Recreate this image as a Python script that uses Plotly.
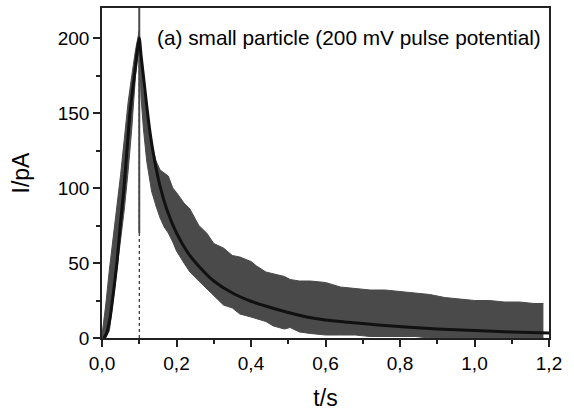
import plotly.graph_objects as go

# ---- data ----
# envelope of the noisy current trace (pA) vs time (s)
band_t = [0.0, 0.01, 0.02, 0.03, 0.04, 0.05, 0.06, 0.07, 0.08, 0.09, 0.1,
          0.105, 0.111, 0.12, 0.133, 0.145, 0.156, 0.167, 0.178, 0.19, 0.2,
          0.22, 0.236, 0.26, 0.281, 0.3, 0.326, 0.35, 0.37, 0.4, 0.415, 0.44,
          0.46, 0.49, 0.505, 0.53, 0.56, 0.6, 0.64, 0.68, 0.72, 0.76, 0.8,
          0.84, 0.88, 0.92, 0.96, 1.0, 1.04, 1.08, 1.12, 1.16, 1.185]
band_upper = [2, 22, 46, 66, 86, 109, 133, 157, 175, 192, 205,
              185, 165, 150, 130, 118, 112, 110, 108, 100, 97,
              90, 86, 75, 70, 63, 60, 55, 54, 51, 48, 44,
              43, 41, 39, 38, 38, 37, 34, 33, 32, 32, 31,
              30, 29, 27, 26, 25, 25, 24, 24, 23, 23]
band_lower = [0, 0, 5, 25, 43, 64, 86, 111, 140, 175, 195,
              160, 140, 118, 98, 88, 80, 74, 70, 64, 58,
              50, 44, 38, 33, 28, 22, 20, 16, 14, 13, 11,
              8, 6, 7, 4, 3, 2, 2, 2, 1, 1, 1,
              1, 0, 0, 0, 0, 0, 0, 0, 0, 0]

# single-sample spike of the trace at the pulse end
spike_t = [0.1, 0.1]
spike_I = [70, 225]

# fitted curve
fit_t = [0.005, 0.012, 0.022, 0.028, 0.034, 0.04, 0.049, 0.059, 0.067, 0.075,
         0.087, 0.1, 0.105, 0.111, 0.12, 0.129, 0.14, 0.156, 0.175, 0.2,
         0.23, 0.263, 0.3, 0.35, 0.4, 0.45, 0.5, 0.55, 0.6, 0.66, 0.75,
         0.9, 1.0, 1.1, 1.2]
fit_I = [0, 3, 14, 25, 37, 50, 75, 100, 125, 150,
         175, 200, 188, 175, 155, 137, 120, 101, 85, 70,
         57, 47, 38, 30, 24.5, 20.5, 17, 14, 12, 10.5, 8.5,
         6, 5, 4, 3.3]

# dotted marker of the pulse end
pulse_t = [0.1, 0.1]
pulse_I = [0, 200]

x_ticks = [0.0, 0.2, 0.4, 0.6, 0.8, 1.0, 1.2]
x_labels = ["0,0", "0,2", "0,4", "0,6", "0,8", "1,0", "1,2"]
y_ticks = [0, 50, 100, 150, 200]
label_text = "(a) small particle (200 mV pulse potential)"

GRAY = "#4a4a4a"
FONT = "Liberation Sans, Arial, sans-serif"

fig = go.Figure()

fig.add_trace(go.Scatter(x=pulse_t, y=pulse_I, mode="lines",
                         line=dict(color="black", width=1, dash="dot"),
                         hoverinfo="skip"))
fig.add_trace(go.Scatter(x=band_t, y=band_lower, mode="lines",
                         line=dict(color=GRAY, width=1), hoverinfo="skip"))
fig.add_trace(go.Scatter(x=band_t, y=band_upper, mode="lines",
                         line=dict(color=GRAY, width=1), fill="tonexty",
                         fillcolor=GRAY, hoverinfo="skip"))
fig.add_trace(go.Scatter(x=spike_t, y=spike_I, mode="lines",
                         line=dict(color=GRAY, width=2), hoverinfo="skip"))
fig.add_trace(go.Scatter(x=fit_t, y=fit_I, mode="lines",
                         line=dict(color="#111111", width=3, shape="spline",
                                   smoothing=0.6),
                         hoverinfo="skip"))

axis_common = dict(showgrid=False, zeroline=False, showline=True,
                   linecolor="#222222", linewidth=1.5, mirror=True,
                   ticks="outside", ticklen=7, tickwidth=1.5,
                   tickcolor="#222222", automargin=False,
                   tickfont=dict(family=FONT, size=19, color="black"))

fig.update_xaxes(range=[0, 1.2], tickvals=x_ticks, ticktext=x_labels,
                 minor=dict(dtick=0.1, ticks="outside", ticklen=4,
                            tickwidth=1.5, tickcolor="#222222"),
                 title=dict(text="t/s", font=dict(family=FONT, size=23,
                                                  color="black"),
                            standoff=17),
                 **axis_common)
fig.update_yaxes(range=[0, 220], tickvals=y_ticks,
                 minor=dict(dtick=25, ticks="outside", ticklen=4,
                            tickwidth=1.5, tickcolor="#222222"),
                 title=dict(text="I/pA", font=dict(family=FONT, size=23,
                                                   color="black"),
                            standoff=22),
                 **axis_common)

fig.add_annotation(x=0.119, y=0.91, xref="paper", yref="paper",
                   xanchor="left", yanchor="middle", showarrow=False,
                   text=label_text,
                   font=dict(family=FONT, size=20.8, color="black"))

fig.update_layout(width=574, height=411, showlegend=False,
                  paper_bgcolor="white", plot_bgcolor="white",
                  margin=dict(l=102, r=25, t=8, b=73))

fig.write_html("out.html", config={"displayModeBar": False},
               post_script="document.body.style.margin='0';"
                           "document.body.style.overflow='hidden';")
